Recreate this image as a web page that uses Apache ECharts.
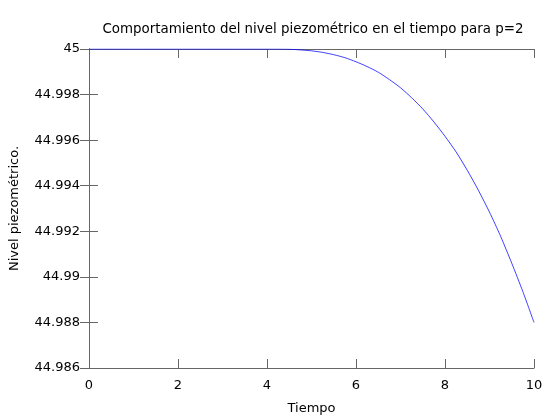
<!DOCTYPE html>
<html>
<head>
<meta charset="utf-8">
<script src="https://cdn.jsdelivr.net/npm/echarts@6/dist/echarts.min.js"></script>
<style>
  html, body { margin: 0; padding: 0; background: #fff; }
  #chart { width: 560px; height: 420px; }
</style>
</head>
<body>
<div id="chart"></div>
<script>
// tiempo (eje x) y nivel piezometrico
const tiempo = [0, 1, 2, 3, 4, 4.25, 4.5, 4.75, 5, 5.25, 5.5, 5.75, 6, 6.25, 6.5, 6.75,
  7, 7.25, 7.5, 7.75, 8, 8.25, 8.5, 8.75, 9, 9.25, 9.5, 9.75, 10];
const nivel = [45, 45, 45, 45, 45, 44.999998, 44.99999, 44.99996, 44.99992, 44.99985,
  44.99975, 44.99962, 44.99944, 44.99923, 44.99898, 44.99866, 44.99830, 44.99786,
  44.99737, 44.99680, 44.99617, 44.99548, 44.99468, 44.99380, 44.99284, 44.99178,
  44.99060, 44.98935, 44.98800];
const xTicks = [0, 2, 4, 6, 8, 10];
const yTicks = [44.986, 44.988, 44.99, 44.992, 44.994, 44.996, 44.998, 45];

const chart = echarts.init(document.getElementById('chart'));

const frameColor = '#666';
const font = 'DejaVu Sans';

// eje con ticks hacia dentro, como gnuplot
function frameAxis(extra) {
  return Object.assign({
    type: 'value',
    axisLine: { show: true, lineStyle: { color: frameColor, width: 1 } },
    axisTick: { show: true, inside: true, length: 9, lineStyle: { color: frameColor } },
    splitLine: { show: false }
  }, extra);
}

const option = {
  animation: false,
  backgroundColor: '#fff',
  title: {
    text: 'Comportamiento del nivel piezométrico en el tiempo para p=2',
    left: 308,
    top: 18,
    textAlign: 'center',
    textStyle: { fontFamily: font, fontSize: 13.4, fontWeight: 'normal', color: '#000' }
  },
  grid: { left: 89, right: 26, top: 49, bottom: 52 },
  xAxis: [
    frameAxis({
      position: 'bottom',
      min: xTicks[0], max: xTicks[xTicks.length - 1], interval: 2,
      name: 'Tiempo',
      nameLocation: 'middle',
      nameGap: 34,
      nameTextStyle: { fontFamily: font, fontSize: 13, color: '#000' },
      axisLabel: { margin: 11, fontFamily: font, fontSize: 13, color: '#000' }
    }),
    frameAxis({
      position: 'top',
      min: xTicks[0], max: xTicks[xTicks.length - 1], interval: 2,
      axisLabel: { show: false }
    })
  ],
  yAxis: [
    frameAxis({
      position: 'left',
      min: yTicks[0], max: yTicks[yTicks.length - 1], interval: 0.002,
      name: 'Nivel piezométrico.',
      nameLocation: 'middle',
      nameGap: 68,
      nameTextStyle: { fontFamily: font, fontSize: 13, color: '#000' },
      axisLabel: {
        margin: 9, fontFamily: font, fontSize: 13, color: '#000',
        formatter: v => String(parseFloat(v.toFixed(3)))
      }
    }),
    frameAxis({
      position: 'right',
      min: yTicks[0], max: yTicks[yTicks.length - 1], interval: 0.002,
      axisLabel: { show: false }
    })
  ],
  series: [
    {
      type: 'line',
      data: tiempo.map((t, i) => [t, nivel[i]]),
      showSymbol: false,
      smooth: 0.25,
      clip: true,
      lineStyle: { color: '#0000ff', width: 1, opacity: 0.75 }
    }
  ]
};

chart.setOption(option);
</script>
</body>
</html>
